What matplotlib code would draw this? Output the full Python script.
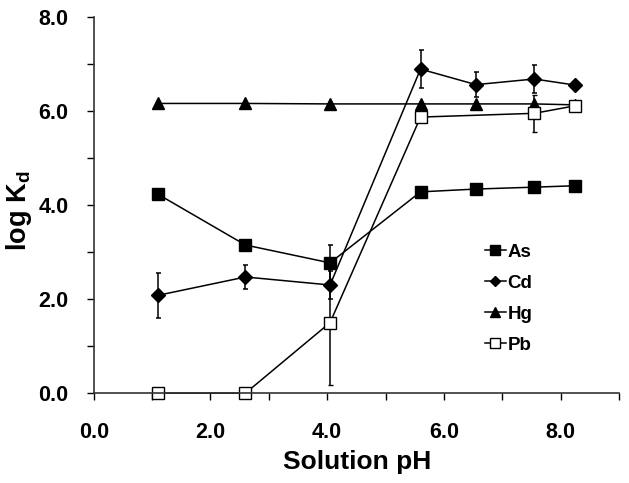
import matplotlib
matplotlib.use("Agg")
import matplotlib.pyplot as plt
from matplotlib.lines import Line2D
import numpy as np

plt.rcParams['font.family'] = ['Liberation Sans', 'DejaVu Sans']
plt.rcParams['font.weight'] = 'bold'
plt.rcParams['mathtext.fontset'] = 'custom'
plt.rcParams['mathtext.rm'] = 'Liberation Sans:bold'
plt.rcParams['mathtext.it'] = 'Liberation Sans:bold'
plt.rcParams['mathtext.bf'] = 'Liberation Sans:bold'

# solution pH values
ph = [1.1, 2.6, 4.05, 5.6, 6.55, 7.55, 8.25]
ph_pb = [1.1, 2.6, 4.05, 5.6, 7.55, 8.25]

as_kd = [4.23, 3.15, 2.77, 4.28, 4.34, 4.38, 4.41]
as_err = [0, 0, 0.38, 0, 0, 0, 0]
cd_kd = [2.08, 2.47, 2.30, 6.89, 6.56, 6.68, 6.55]
cd_err = [0.48, 0.25, 0.30, 0.40, 0.27, 0.30, 0]
hg_kd = [6.16, 6.16, 6.15, 6.15, 6.15, 6.15, 6.13]
pb_kd = [0.0, 0.0, 1.5, 5.87, 5.95, 6.11]
pb_err = [0, 0, 1.33, 0, 0.4, 0]

fig = plt.figure(figsize=(6.29, 4.83), dpi=100)
ax = fig.add_axes([0.149, 0.186, 0.835, 0.779])

lw = 1.1
kw = dict(color='black', linewidth=lw, elinewidth=lw, capsize=1.8, capthick=lw, clip_on=False)
ax.errorbar(ph, as_kd, yerr=as_err, marker='s', markersize=8.5, mfc='black', mec='black', **kw)
ax.errorbar(ph, cd_kd, yerr=cd_err, marker='D', markersize=7, mfc='black', mec='black', **kw)
ax.errorbar(ph, hg_kd, marker='^', markersize=8, mfc='black', mec='black', **kw)
ax.errorbar(ph_pb, pb_kd, yerr=pb_err, marker='s', markersize=9, mfc='white', mec='black', mew=1.0, **kw)

ax.set_xlim(0, 9)
ax.set_ylim(0, 8)
ax.set_xticks(np.arange(0, 9, 2))
ax.set_xticks(np.arange(1, 10, 2), minor=True)
ax.set_xticklabels(['%.1f' % v for v in np.arange(0, 9, 2)])
ax.set_yticks(np.arange(0, 9, 2))
ax.set_yticks(np.arange(1, 8, 2), minor=True)
ax.set_yticklabels(['%.1f' % v for v in np.arange(0, 9, 2)])
ax.tick_params(which='both', direction='out', length=5, width=1, labelsize=15.5)
ax.tick_params(axis='x', pad=16)
ax.tick_params(axis='y', pad=13)
for s in ['top', 'right']:
    ax.spines[s].set_visible(False)
for s in ['left', 'bottom']:
    ax.spines[s].set_linewidth(1.2)
    ax.spines[s].set_color('#333333')

ax.set_xlabel('Solution pH', fontsize=19, fontweight='bold')
ax.xaxis.set_label_coords(0.501, -0.152)
ax.set_ylabel(r'log K$_\mathrm{d}$', fontsize=19.5, fontweight='bold')
ax.yaxis.set_label_coords(-0.113, 0.484)

handles = [
    Line2D([], [], color='black', lw=lw, marker='s', markersize=7, mfc='black', mec='black'),
    Line2D([], [], color='black', lw=lw, marker='D', markersize=5.5, mfc='black', mec='black'),
    Line2D([], [], color='black', lw=lw, marker='^', markersize=6.5, mfc='black', mec='black'),
    Line2D([], [], color='black', lw=lw, marker='s', markersize=7, mfc='white', mec='black', mew=1.0),
]
ax.legend(handles, ['As', 'Cd', 'Hg', 'Pb'], loc='upper left', bbox_to_anchor=(0.745, 0.397),
          frameon=False, fontsize=13.5, handlelength=1.1, handletextpad=0.1, labelspacing=0.74,
          borderaxespad=0, borderpad=0)

plt.savefig('out.png', dpi=100)
